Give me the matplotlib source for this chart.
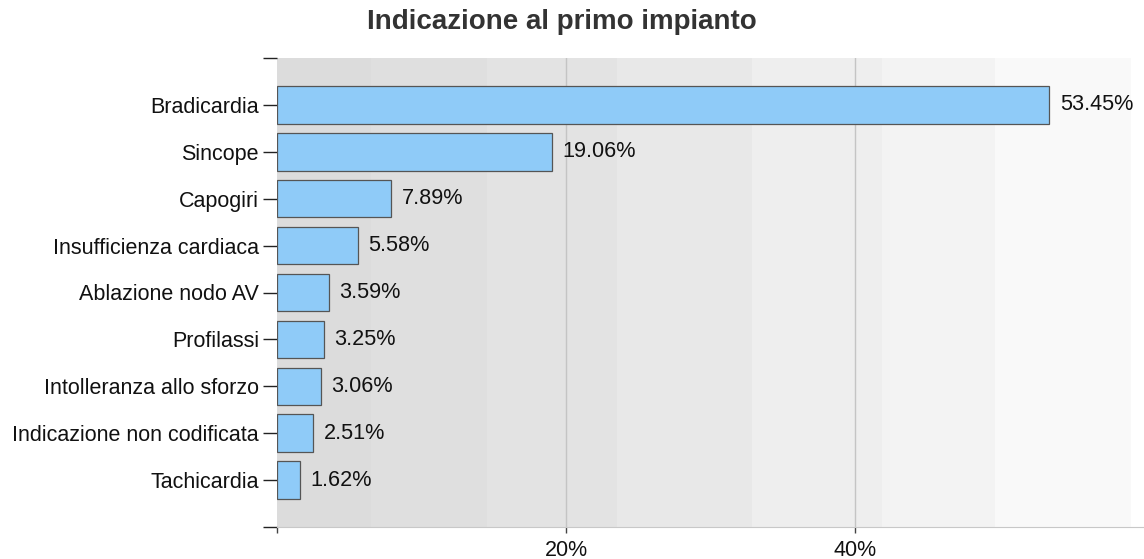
import matplotlib
matplotlib.use("Agg")
import matplotlib.pyplot as plt
import numpy as np

plt.rcParams['font.family'] = ['Liberation Sans', 'DejaVu Sans']

categories = ["Bradicardia", "Sincope", "Capogiri", "Insufficienza cardiaca",
              "Ablazione nodo AV", "Profilassi", "Intolleranza allo sforzo",
              "Indicazione non codificata", "Tachicardia"]
values = [53.45, 19.06, 7.89, 5.58, 3.59, 3.25, 3.06, 2.51, 1.62]
xticks = [20, 40]
xtick_labels = ["20%", "40%"]

# background bands (left to right, darker to lighter)
band_edges = [0, 6.5, 14.5, 23.5, 32.9, 41.9, 49.7, 59.1]
band_colors = ["#dcdcdc", "#dfdfdf", "#e3e3e3", "#e8e8e8", "#eeeeee", "#f3f3f3", "#f9f9f9"]

fig = plt.figure(figsize=(11.44, 5.59), dpi=100)
ax = fig.add_axes([277 / 1144, 1 - 527 / 559, 1 - 277 / 1144, (527 - 58) / 559])

for i in range(len(band_colors)):
    ax.axvspan(band_edges[i], band_edges[i + 1], color=band_colors[i], lw=0, zorder=0)

for x in xticks:
    ax.axvline(x, color="#c4c4c4", lw=1, zorder=1)

y = np.arange(len(categories))
ax.barh(y, values, height=0.8, color="#8fcbf8", edgecolor="#555555", linewidth=0.9, zorder=2)

for yi, v in zip(y, values):
    ax.text(v + 0.72, yi, "%.2f%%" % v, va="center", ha="left", fontsize=15.6, color="#111111", zorder=3)

ax.set_xlim(0, 60)
ax.set_ylim(len(categories), -1)
ax.set_yticks(y)
ax.set_yticklabels(categories, fontsize=15.5, color="#111111")
ax.set_yticks([-1, len(categories)], minor=True)
ax.tick_params(axis="y", which="both", length=10, width=1, color="#222222", pad=3)

ax.set_xticks(xticks)
ax.set_xticklabels(xtick_labels, fontsize=15.5, color="#111111")
ax.set_xticks([0], minor=True)
ax.tick_params(axis="x", which="both", length=4, width=1, color="#444444", pad=5)

ax.spines["top"].set_visible(False)
ax.spines["right"].set_visible(False)
ax.spines["left"].set_visible(False)
ax.spines["bottom"].set_color("#c8c8c8")
ax.set_facecolor("white")

fig.text(562 / 1144, 1 - 22 / 559, "Indicazione al primo impianto", ha="center", va="center",
         fontsize=20, fontweight="bold", color="#333333")

fig.savefig("out.png", dpi=100)
